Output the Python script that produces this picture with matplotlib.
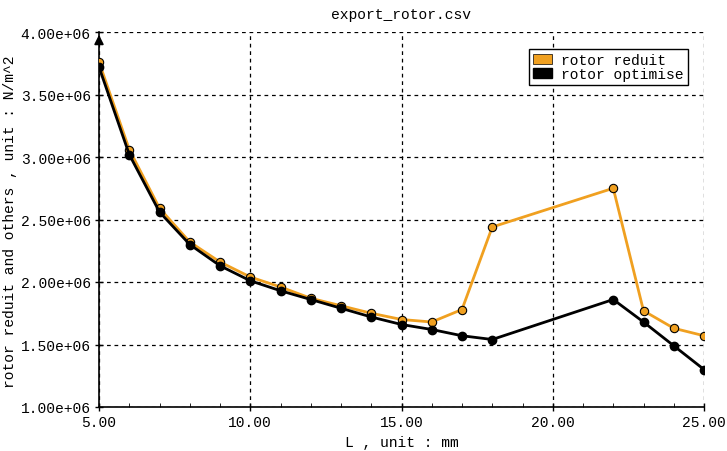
import matplotlib.pyplot as plt
from matplotlib.patches import Patch
from matplotlib.ticker import MultipleLocator

L = [5, 6, 7, 8, 9, 10, 11, 12, 13, 14, 15, 16, 17, 18, 22, 23, 24, 25]
rotor_reduit = [3.76e6, 3.06e6, 2.59e6, 2.32e6, 2.16e6, 2.04e6, 1.96e6, 1.87e6, 1.81e6,
                1.75e6, 1.70e6, 1.68e6, 1.78e6, 2.44e6, 2.75e6, 1.77e6, 1.63e6, 1.57e6]
rotor_optimise = [3.72e6, 3.02e6, 2.56e6, 2.30e6, 2.13e6, 2.01e6, 1.93e6, 1.86e6, 1.79e6,
                  1.72e6, 1.66e6, 1.62e6, 1.57e6, 1.54e6, 1.86e6, 1.68e6, 1.49e6, 1.30e6]
x_ticks = [5, 10, 15, 20, 25]
y_ticks = [1.0e6, 1.5e6, 2.0e6, 2.5e6, 3.0e6, 3.5e6, 4.0e6]

orange = '#F0A020'
plt.rcParams['font.family'] = ['Liberation Mono', 'DejaVu Sans Mono']
plt.rcParams['font.size'] = 10.5

fig = plt.figure(figsize=(7.27, 4.52), dpi=100)
ax = fig.add_axes([99 / 727, 1 - 408 / 452, (704 - 99) / 727, (408 - 33) / 452])

ax.plot(L, rotor_reduit, color=orange, linewidth=2, marker='o', markersize=6,
        markerfacecolor=orange, markeredgecolor='black', markeredgewidth=0.8, zorder=3)
ax.plot(L, rotor_optimise, color='black', linewidth=2, marker='o', markersize=6,
        markerfacecolor='black', markeredgecolor='black', zorder=4)

ax.set_xlim(5, 25)
ax.set_ylim(1.0e6, 4.0e6)
ax.set_xticks(x_ticks)
ax.set_xticklabels([f'{v:.2f}' for v in x_ticks])
ax.set_yticks(y_ticks)
ax.set_yticklabels([f'{v:.2e}' for v in y_ticks])
ax.xaxis.set_minor_locator(MultipleLocator(1))
ax.tick_params(axis='both', which='major', direction='inout', length=6, width=1, pad=3)
ax.tick_params(axis='x', which='minor', direction='in', length=3)

ax.grid(True, which='major', color='black', linestyle=(0, (3, 3)), linewidth=0.9)
ax.spines['top'].set_visible(False)
ax.spines['right'].set_visible(False)
ax.spines['left'].set_linewidth(1.2)
ax.spines['bottom'].set_linewidth(1.2)
ax.annotate('', xy=(5, 4.0e6), xytext=(5, 3.88e6),
            arrowprops=dict(arrowstyle='-|>', color='black', lw=1.2, mutation_scale=14),
            annotation_clip=False)

ax.set_title('export_rotor.csv', fontsize=10.5, pad=10)
ax.set_xlabel('L , unit : mm', labelpad=4)
fig.text(3 / 727, 1 - 222 / 452, 'rotor reduit and others , unit : N/m^2',
         rotation=90, ha='left', va='center')

handles = [Patch(facecolor=orange, edgecolor='black', linewidth=0.5),
           Patch(facecolor='black', edgecolor='black')]
leg = ax.legend(handles, ['rotor reduit', 'rotor optimise'], loc='upper right',
                bbox_to_anchor=(0.985, 0.975), fancybox=False, framealpha=1,
                edgecolor='black', handlelength=1.3, handleheight=0.7,
                labelspacing=0.0, borderpad=0.3, handletextpad=0.6)
leg.get_frame().set_linewidth(1)

fig.savefig('out.png', dpi=100)
